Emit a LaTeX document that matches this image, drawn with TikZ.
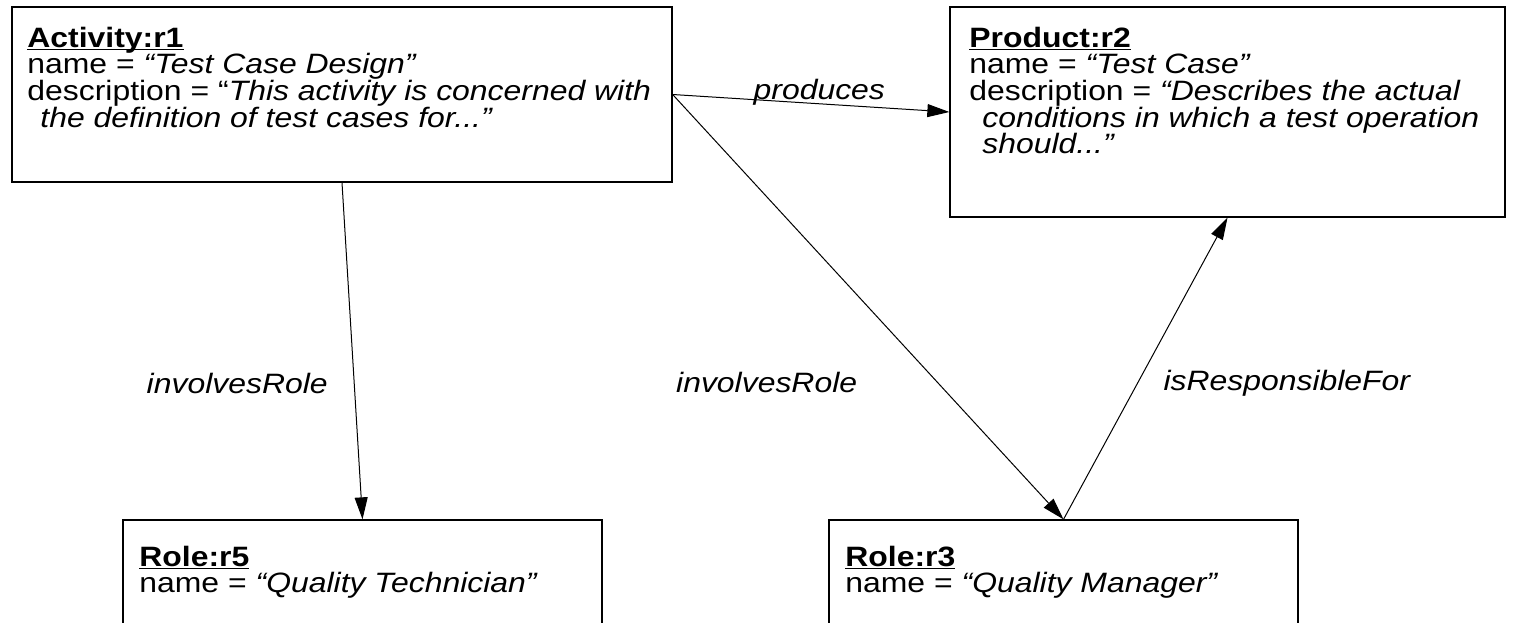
\documentclass[tikz,border=0pt]{standalone}
\usepackage{fontspec}
\setmainfont{Liberation Sans}[FakeStretch=1.14]
\usetikzlibrary{arrows.meta,fit,positioning}
\newcommand{\ind}{\hspace*{6.5pt}}
\newsavebox{\hdbox}
\newcommand{\hd}[1]{\sbox{\hdbox}{\textbf{#1}}\usebox{\hdbox}\llap{\rule[-1.6pt]{\wd\hdbox}{0.9pt}}}

\begin{document}
\begin{tikzpicture}[x=0.5pt,y=-0.5pt,
    obj/.style={draw,line width=0.65pt,inner sep=0pt},
    txt/.style={anchor=north west,align=left,inner sep=0pt},
    lbl/.style={font=\itshape,inner sep=0pt},
    rel/.style={-{Triangle[length=11pt,width=6.5pt]},line width=0.5pt}]
  \fontsize{14}{13.35}\selectfont
  \useasboundingbox (0,0) rectangle (1514,622);
  \clip (0,0) rectangle (1514,622);
  % objects
  \node[obj,fit={(12,7) (672,182)}] (r1) {};
  \node[obj,fit={(950,7) (1505,217)}] (r2) {};
  \node[obj,fit={(123,520) (602,720)}] (r5) {};
  \node[obj,fit={(829,520) (1298,720)}] (r3) {};
  \node[txt] (r1txt) at (27,26.5) {\hd{Activity:r1}\\
    name = \textit{“Test Case Design”}\\
    description = “\textit{This activity is concerned with}\\
    \ind\textit{the definition of test cases for...”}};
  \node[txt] (r2txt) at (969,26.5) {\hd{Product:r2}\\
    name = \textit{“Test Case”}\\
    description = \textit{“Describes the actual}\\
    \ind\textit{conditions in which a test operation}\\
    \ind\textit{should...”}};
  \node[txt] (r5txt) at (139,545.5) {\hd{Role:r5}\\
    name = \textit{“Quality Technician”}};
  \node[txt] (r3txt) at (845,545.5) {\hd{Role:r3}\\
    name = \textit{“Quality Manager”}};
  % links
  \path (r1.east) edge[rel] node[lbl,pos=.53,above=-1pt] (lprod) {produces} (r2.west);
  \path (r1.south) edge[rel] node[lbl,pos=.595,left=13pt] (linv1) {involvesRole} (r5.north);
  \path (r1.east) edge[rel] node[lbl,pos=.678,left=40pt] (linv2) {involvesRole} (r3.north);
  \path (r3.north) edge[rel] node[lbl,pos=.452,right=12.7pt] (lresp) {isResponsibleFor} (r2.south);
\end{tikzpicture}
\end{document}
